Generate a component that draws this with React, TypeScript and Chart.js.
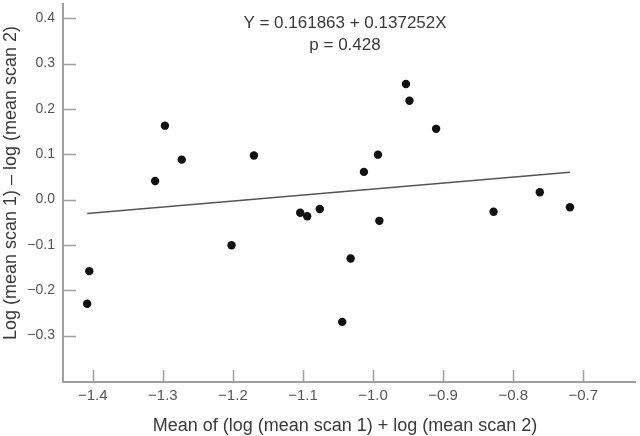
import React, { useEffect, useRef } from 'react';
import { Chart, registerables } from 'chart.js';

Chart.register(...registerables);

// Scatter data: mean of logs (x) vs difference of logs (y)
const xValues = [-1.405, -1.408, -1.311, -1.297, -1.273, -1.202, -1.170, -1.104, -1.094, -1.076, -1.032, -1.044, -1.013, -0.993, -0.991, -0.953, -0.948, -0.910, -0.828, -0.762, -0.719];
const yValues = [-0.158, -0.230, 0.041, 0.163, 0.088, -0.101, 0.097, -0.029, -0.037, -0.021, -0.130, -0.270, 0.061, 0.099, -0.047, 0.255, 0.218, 0.156, -0.027, 0.016, -0.017];

// Regression line end points
const fitX = [-1.408, -0.719];
const fitY = [-0.031, 0.060];

const xTicks = [-1.4, -1.3, -1.2, -1.1, -1.0, -0.9, -0.8, -0.7];
const xTickLabels = ['\u22121.4', '\u22121.3', '\u22121.2', '\u22121.1', '\u22121.0', '\u22120.9', '\u22120.8', '\u22120.7'];
const yTicks = [-0.3, -0.2, -0.1, 0.0, 0.1, 0.2, 0.3, 0.4];
const yTickLabels = ['\u22120.3', '\u22120.2', '\u22120.1', '0.0', '0.1', '0.2', '0.3', '0.4'];

const equationText = 'Y = 0.161863 + 0.137252X';
const pText = 'p = 0.428';
const xTitle = 'Mean of (log (mean scan 1) + log (mean scan 2)';
const yTitle = 'Log (mean scan 1) \u2013 log (mean scan 2)';

const FONT = '"Liberation Sans", Arial, Helvetica, sans-serif';

const decorPlugin = {
  id: 'decor',
  afterDraw(chart: any) {
    const { ctx, chartArea, scales } = chart;
    const xs = scales.x;
    const ys = scales.y;
    ctx.save();
    // inner tick marks
    ctx.strokeStyle = '#a0a0a0';
    ctx.lineWidth = 1.5;
    ctx.beginPath();
    for (const v of xTicks) {
      const px = Math.round(xs.getPixelForValue(v)) + 0.5;
      ctx.moveTo(px, chartArea.bottom);
      ctx.lineTo(px, chartArea.bottom - 12);
    }
    for (const v of yTicks) {
      const py = Math.round(ys.getPixelForValue(v)) + 0.5;
      ctx.moveTo(chartArea.left, py);
      ctx.lineTo(chartArea.left + 13, py);
    }
    ctx.stroke();

    // annotation
    ctx.fillStyle = '#3a3a3a';
    ctx.textAlign = 'center';
    ctx.textBaseline = 'middle';
    ctx.font = '17px ' + FONT;
    ctx.fillText(equationText, 345, 23);
    ctx.fillText(pText, 345, 45);

    // axis titles
    ctx.font = '18px ' + FONT;
    ctx.fillText(xTitle, 345, 426);
    ctx.save();
    ctx.translate(11, 183);
    ctx.rotate(-Math.PI / 2);
    ctx.fillText(yTitle, 0, 0);
    ctx.restore();
    ctx.restore();
  },
};

export default function App() {
  const canvasRef = useRef<HTMLCanvasElement | null>(null);

  useEffect(() => {
    if (!canvasRef.current) return;
    const chart = new Chart(canvasRef.current, {
      type: 'scatter',
      data: {
        datasets: [
          {
            label: 'fit',
            data: fitX.map((x, i) => ({ x, y: fitY[i] })),
            showLine: true,
            borderColor: '#555555',
            borderWidth: 1.5,
            pointRadius: 0,
            fill: false,
          },
          {
            label: 'points',
            data: xValues.map((x, i) => ({ x, y: yValues[i] })),
            pointRadius: 4.2,
            pointBackgroundColor: '#111111',
            pointBorderWidth: 0,
            borderColor: '#111111',
            showLine: false,
          },
        ],
      },
      options: {
        responsive: false,
        animation: false,
        devicePixelRatio: 1,
        layout: { padding: 0 },
        plugins: {
          legend: { display: false },
          tooltip: { enabled: false },
        },
        scales: {
          x: {
            type: 'linear',
            min: -1.4425,
            max: -0.625,
            afterBuildTicks: (s: any) => {
              s.ticks = xTicks.map((v) => ({ value: v }));
            },
            afterFit: (s: any) => {
              s.height = 54;
              s.paddingLeft = 0;
              s.paddingRight = 0;
              s.paddingTop = 0;
              s.paddingBottom = 0;
            },
            grid: { display: false, drawTicks: false },
            border: { display: true, color: '#a0a0a0', width: 2 },
            ticks: {
              color: '#555555',
              font: { family: FONT, size: 15 },
              padding: 5,
              maxRotation: 0,
              autoSkip: false,
              callback: (_v: any, i: number) => xTickLabels[i],
            },
          },
          y: {
            type: 'linear',
            min: -0.4026,
            max: 0.431,
            afterBuildTicks: (s: any) => {
              s.ticks = yTicks.map((v) => ({ value: v }));
            },
            afterFit: (s: any) => {
              s.width = 63;
              s.paddingLeft = 0;
              s.paddingRight = 0;
              s.paddingTop = 0;
              s.paddingBottom = 0;
            },
            grid: { display: false, drawTicks: false },
            border: { display: true, color: '#a0a0a0', width: 2 },
            ticks: {
              color: '#555555',
              font: { family: FONT, size: 14 },
              padding: 8,
              autoSkip: false,
              callback: (_v: any, i: number) => yTickLabels[i],
            },
          },
        },
      },
      plugins: [decorPlugin],
    });
    return () => chart.destroy();
  }, []);

  return (
    <div style={{ position: 'absolute', left: 0, top: 0, width: 640, height: 436, background: '#ffffff' }}>
      <canvas ref={canvasRef} width={640} height={436} style={{ display: 'block' }} />
    </div>
  );
}
